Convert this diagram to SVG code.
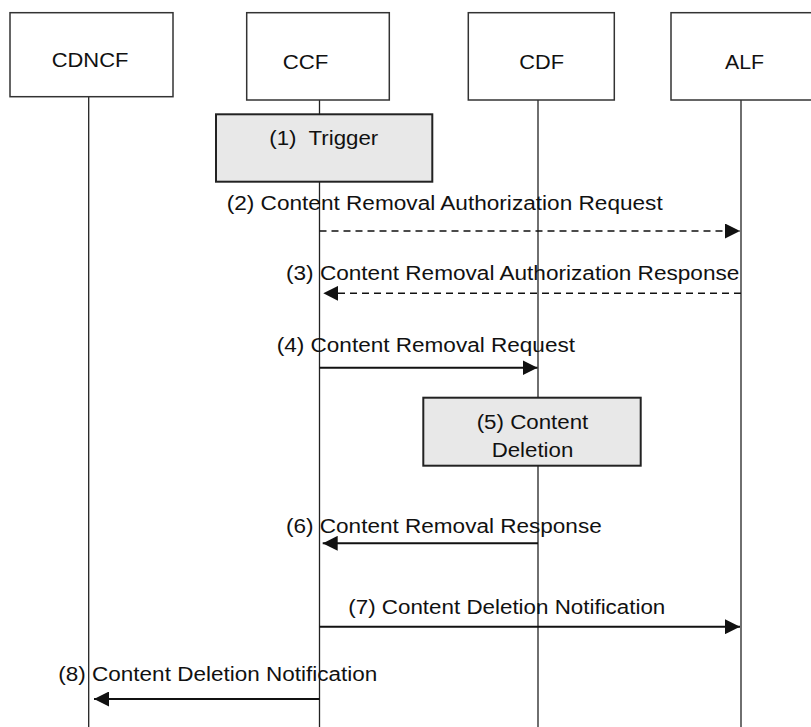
<svg xmlns="http://www.w3.org/2000/svg" width="811" height="727" viewBox="0 0 811 727">
<style>
.box{fill:#ffffff;stroke:#333333;stroke-width:1.5}
.act{fill:#e8e8e8;stroke:#222222;stroke-width:2}
.life{stroke:#222222;stroke-width:1.3;fill:none}
.t{font-family:"Liberation Sans",Arial,sans-serif;font-size:20px;fill:#111111}
.c{text-anchor:middle}
.dash{stroke:#111111;stroke-width:1.6;stroke-dasharray:7 5;fill:none}
.sol{stroke:#111111;stroke-width:2;fill:none}
</style>
<defs>
<marker id="ah" viewBox="0 0 15 15" refX="15" refY="7.5" markerWidth="15" markerHeight="15" markerUnits="userSpaceOnUse" orient="auto">
<path d="M0,0 L15,7.5 L0,15 z" fill="#111111"/>
</marker>
</defs>
<rect width="811" height="727" fill="#ffffff"/>
<g id="lifelines">
<line class="life" x1="88.7" y1="96.7" x2="88.7" y2="727"/>
<line class="life" x1="319.5" y1="100" x2="319.5" y2="727"/>
<line class="life" x1="538" y1="100" x2="538" y2="727"/>
<line class="life" x1="741" y1="100" x2="741" y2="727"/>
</g>
<g id="CDNCF">
<rect class="box" x="10" y="12.7" width="163" height="84"/>
<text class="t" x="51.7" y="66.7" textLength="76.7" lengthAdjust="spacingAndGlyphs">CDNCF</text>
</g>
<g id="CCF">
<rect class="box" x="246.7" y="12.7" width="142.6" height="87.3"/>
<text class="t" x="282.7" y="69.3" textLength="45.6" lengthAdjust="spacingAndGlyphs">CCF</text>
</g>
<g id="CDF">
<rect class="box" x="468.3" y="12.7" width="146" height="87.3"/>
<text class="t" x="519.3" y="69.3" textLength="44.7" lengthAdjust="spacingAndGlyphs">CDF</text>
</g>
<g id="ALF">
<rect class="box" x="671" y="12.7" width="160" height="87.3"/>
<text class="t" x="725" y="69.3" textLength="39" lengthAdjust="spacingAndGlyphs">ALF</text>
</g>
<g id="trigger">
<rect class="act" x="216" y="114.3" width="216.3" height="67.4"/>
<text class="t" x="269.3" y="145" textLength="109" lengthAdjust="spacingAndGlyphs" xml:space="preserve" style="white-space:pre">(1)  Trigger</text>
</g>
<g id="deletion">
<rect class="act" x="423.3" y="397.7" width="217.4" height="68"/>
<text class="t" x="476.7" y="429" textLength="111.6" lengthAdjust="spacingAndGlyphs">(5) Content</text>
<text class="t" x="491.7" y="456.7" textLength="81.6" lengthAdjust="spacingAndGlyphs">Deletion</text>
</g>
<g id="connectors">
<line class="dash" x1="319.5" y1="231" x2="740" y2="231" marker-end="url(#ah)"/>
<line class="dash" x1="741" y1="293.3" x2="323.3" y2="293.3" marker-end="url(#ah)"/>
<line class="sol" x1="319.5" y1="367.7" x2="537.5" y2="367.7" marker-end="url(#ah)"/>
<line class="sol" x1="538" y1="543.3" x2="322.7" y2="543.3" marker-end="url(#ah)"/>
<line class="sol" x1="319.5" y1="626.7" x2="740" y2="626.7" marker-end="url(#ah)"/>
<line class="sol" x1="319.5" y1="699" x2="94" y2="699" marker-end="url(#ah)"/>
</g>
<g id="labels">
<text class="t" x="226.7" y="210" textLength="436" lengthAdjust="spacingAndGlyphs">(2) Content Removal Authorization Request</text>
<text class="t" x="286" y="280" textLength="453.3" lengthAdjust="spacingAndGlyphs">(3) Content Removal Authorization Response</text>
<text class="t" x="276.7" y="351.7" textLength="298.3" lengthAdjust="spacingAndGlyphs">(4) Content Removal Request</text>
<text class="t" x="286" y="533.3" textLength="315.7" lengthAdjust="spacingAndGlyphs">(6) Content Removal Response</text>
<text class="t" x="348.3" y="614" textLength="317" lengthAdjust="spacingAndGlyphs">(7) Content Deletion Notification</text>
<text class="t" x="58.3" y="680.7" textLength="319" lengthAdjust="spacingAndGlyphs">(8) Content Deletion Notification</text>
</g>
</svg>
